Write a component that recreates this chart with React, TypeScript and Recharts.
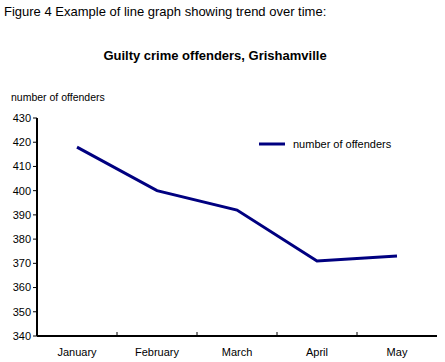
import React from 'react';
import { LineChart, Line, XAxis, YAxis } from 'recharts';

// Datos
const meses = ['January', 'February', 'March', 'April', 'May'];
const infractores = [418, 400, 392, 371, 373];
const ticksY = [340, 350, 360, 370, 380, 390, 400, 410, 420, 430];

const datos = meses.map((mes, i) => ({ mes, infractores: infractores[i] }));

const fuente = '"Liberation Sans", Arial, sans-serif';
const azul = '#000080';

// Etiqueta del eje X con marca en el borde izquierdo de cada categoría
const TickMes = (props: any) => {
  const { x, y, payload, index } = props;
  const medio = payload && payload.offset ? payload.offset : 40;
  return (
    <g>
      {index > 0 && (
        <line x1={x - medio} x2={x - medio} y1={y} y2={y - 4} stroke="#000" strokeWidth={1} />
      )}
      <text x={x} y={y + 20} textAnchor="middle" fontSize={11} fontFamily={fuente} fill="#000">
        {payload.value}
      </text>
    </g>
  );
};

export default function App() {
  return (
    <div style={{ position: 'relative', width: 445, height: 362, background: '#fff', fontFamily: fuente, color: '#000' }}>
      <style>{'body { margin: 0; }'}</style>
      <div style={{ position: 'absolute', left: 0, top: 0 }}>
        <LineChart width={445} height={362} data={datos} margin={{ top: 118, right: 8, bottom: 0, left: 7 }}>
          <XAxis
            dataKey="mes"
            scale="band"
            height={26}
            tickLine={false}
            tickSize={0}
            tickMargin={0}
            axisLine={{ stroke: '#000', strokeWidth: 2 }}
            tick={<TickMes />}
            interval={0}
          />
          <XAxis xAxisId="arriba" orientation="top" dataKey="mes" height={0} tick={false} tickLine={false} axisLine={{ stroke: '#000', strokeWidth: 1 }} />
          <YAxis
            domain={[340, 430]}
            ticks={ticksY}
            width={30}
            tickSize={4}
            tickMargin={2}
            interval={0}
            axisLine={{ stroke: '#000', strokeWidth: 2 }}
            tickLine={{ stroke: '#000' }}
            tick={{ fontSize: 11, fontFamily: fuente, fill: '#000' }}
          />
          <YAxis yAxisId="derecha" orientation="right" width={0} tick={false} tickLine={false} axisLine={{ stroke: '#000', strokeWidth: 1 }} />
          <Line
            type="linear"
            dataKey="infractores"
            stroke={azul}
            strokeWidth={3}
            dot={false}
            activeDot={false}
            isAnimationActive={false}
          />
        </LineChart>
      </div>
      <div style={{ position: 'absolute', left: 4, top: 4, fontSize: 13, whiteSpace: 'nowrap' }}>
        Figure 4 Example of line graph showing trend over time:
      </div>
      <div style={{ position: 'absolute', left: 0, width: 430, top: 48, fontSize: 13, fontWeight: 'bold', textAlign: 'center' }}>
        Guilty crime offenders, Grishamville
      </div>
      <div style={{ position: 'absolute', left: 11, top: 91, fontSize: 10.5, whiteSpace: 'nowrap' }}>
        number of offenders
      </div>
      <div style={{ position: 'absolute', left: 259, top: 138, display: 'flex', alignItems: 'center', fontSize: 11, whiteSpace: 'nowrap' }}>
        <svg width={34} height={6}>
          <line x1={0} x2={26} y1={3} y2={3} stroke={azul} strokeWidth={3} />
        </svg>
        <span>number of offenders</span>
      </div>
    </div>
  );
}
